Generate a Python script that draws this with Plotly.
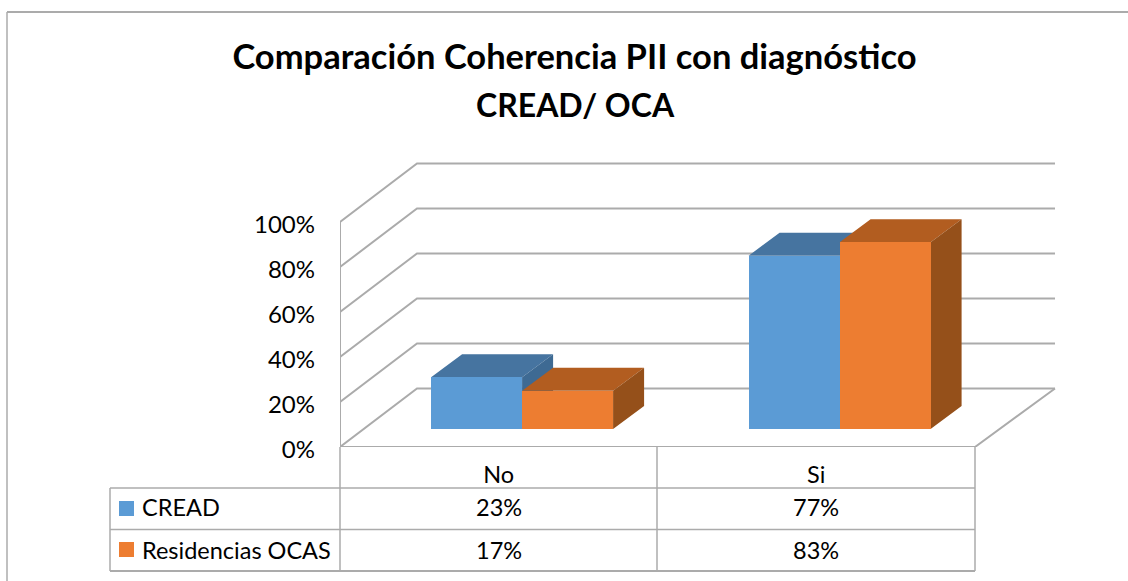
import plotly.graph_objects as go

# ---- data ----
categories = ["No", "Si"]
series_names = ["CREAD", "Residencias OCAS"]
cread = [23, 77]
ocas = [17, 83]
tick_vals = [0, 20, 40, 60, 80, 100]
tick_text = ["0%", "20%", "40%", "60%", "80%", "100%"]
title_line_1 = "<b>Comparación Coherencia PII con diagnóstico</b>"
title_line_2 = "<b>CREAD/ OCA</b>"

# ---- styling ----
W, H = 1128, 581
L, R, T, B = 340, 1056, 158, 447      # plot box in window pixels
FONT = "Lato"
GRID = "#ababab"
TXT = "#000000"
front = ["#5B9BD5", "#ED7D31"]
top_c = ["#4674A0", "#B25D20"]
side_c = ["#3E6A93", "#95501A"]

unit_x = 317.5      # px per category
unit_y = 2.25       # px per percent
x_max = (R - L) / unit_x
y_max = (B - T) / unit_y
wall_dx, wall_dy = 77 / unit_x, 58.5 / unit_y
depth_dx, depth_dy = 31 / unit_x, 23 / unit_y
bar_w = 91 / unit_x
bar_shift = 0.0735
floor_gap = 18 / unit_y
x_end = (1055 - L) / unit_x


def px(x):
    return (x - L) / (R - L)


def py(y):
    return (B - y) / (B - T)


fig = go.Figure()

# walls and floor
gx, gy = [], []
for v in tick_vals:
    gx += [0, wall_dx, x_end, None]
    gy += [v, v + wall_dy, v + wall_dy, None]
gx += [0, 0, None, 0, 2, x_end]
gy += [0, 100, None, 0, 0, wall_dy]
fig.add_trace(go.Scatter(x=gx, y=gy, mode="lines", showlegend=False, hoverinfo="skip",
                         cliponaxis=False, line=dict(color=GRID, width=2)))

all_series = [cread, ocas]
for s, vals in enumerate(all_series):
    sign = -1 if s == 0 else 0
    tx, ty, sx, sy = [], [], [], []
    for c, v in enumerate(vals):
        x0 = c + 0.5 + bar_shift + sign * bar_w
        x1 = x0 + bar_w
        y0, y1 = floor_gap, floor_gap + v
        tx += [x0, x1, x1 + depth_dx, x0 + depth_dx, x0, None]
        ty += [y1, y1, y1 + depth_dy, y1 + depth_dy, y1, None]
        sx += [x1, x1 + depth_dx, x1 + depth_dx, x1, x1, None]
        sy += [y1, y1 + depth_dy, y0 + depth_dy, y0, y1, None]
    fig.add_trace(go.Scatter(x=tx, y=ty, mode="lines", fill="toself", fillcolor=top_c[s],
                             line=dict(width=0, color=top_c[s]), showlegend=False, hoverinfo="skip"))
    fig.add_trace(go.Scatter(x=sx, y=sy, mode="lines", fill="toself", fillcolor=side_c[s],
                             line=dict(width=0, color=side_c[s]), showlegend=False, hoverinfo="skip"))

# front faces on an overlaying axis pair so they sit above the faces behind
for s, vals in enumerate(all_series):
    sign = -1 if s == 0 else 0
    fig.add_trace(go.Bar(
        x=[c + 0.5 + bar_shift + sign * bar_w + bar_w / 2 for c in range(len(vals))],
        y=vals, base=floor_gap, width=bar_w, name=series_names[s],
        marker=dict(color=front[s], line=dict(width=0)),
        xaxis="x2", yaxis="y2", showlegend=False,
    ))

# table grid and outer frame
shapes = []


def line(x0, y0, x1, y1, color=GRID, width=1.5):
    shapes.append(dict(type="line", xref="paper", yref="paper",
                       x0=px(x0), y0=py(y0), x1=px(x1), y1=py(y1),
                       line=dict(color=color, width=width)))


line(7, 12, W, 12, "#8f8f8f", 1.5)
line(7, 12, 7, H, "#ababab", 1.5)
line(110, 488, 975, 488)
line(110, 529.5, 975, 529.5)
line(110, 571, 975, 571, width=2)
line(110, 488, 110, 571)
line(340, 447, 340, 571)
line(657, 447, 657, 571)
line(975, 447, 975, 571)

annotations = [dict(text=title_line_2, xref="paper", yref="paper", x=px(575), y=py(104),
                    xanchor="center", yanchor="middle", showarrow=False,
                    font=dict(family=FONT, size=32, color=TXT))]
key_mid = [508.5, 549.5]
text_mid = [507, 550]
for s, (name, vals) in enumerate(zip(series_names, all_series)):
    shapes.append(dict(type="rect", xref="paper", yref="paper",
                       x0=px(119), x1=px(134), y0=py(key_mid[s] - 7.5), y1=py(key_mid[s] + 7.5),
                       fillcolor=front[s], line=dict(width=0)))
    annotations.append(dict(text=name, xref="paper", yref="paper", x=px(140), y=py(text_mid[s]),
                            xanchor="left", yanchor="middle", showarrow=False,
                            font=dict(family=FONT, size=23.5, color=TXT)))
    for c, v in enumerate(vals):
        annotations.append(dict(text=f"{v}%", xref="paper", yref="paper",
                                x=px(340 + unit_x * (c + 0.5)), y=py(text_mid[s]),
                                xanchor="center", yanchor="middle", showarrow=False,
                                font=dict(family=FONT, size=23.5, color=TXT)))

fig.update_layout(
    width=W, height=H, autosize=False,
    margin=dict(l=L, r=W - R, t=T, b=H - B, pad=0),
    paper_bgcolor="white", plot_bgcolor="white",
    barmode="overlay", bargap=0,
    font=dict(family=FONT, color=TXT),
    title=dict(text=title_line_1, xref="container", yref="container",
               x=574.5 / W, y=1 - 45 / H, xanchor="center", yanchor="top",
               font=dict(family=FONT, size=34.5, color=TXT)),
    xaxis=dict(range=[0, x_max], tickvals=[c + 0.5 for c in range(len(categories))],
               ticktext=categories, showgrid=False, zeroline=False, showline=False,
               ticks="", ticklabelstandoff=11, tickfont=dict(family=FONT, size=23.5, color=TXT)),
    yaxis=dict(range=[0, y_max], tickvals=tick_vals, ticktext=tick_text,
               showgrid=False, zeroline=False, showline=False, ticks="",
               ticklabelstandoff=24, ticklabelshift=3, tickfont=dict(family=FONT, size=24, color=TXT)),
    xaxis2=dict(range=[0, x_max], overlaying="x", visible=False),
    yaxis2=dict(range=[0, y_max], overlaying="y", visible=False),
    shapes=shapes, annotations=annotations,
)

page_css = ("document.head.insertAdjacentHTML('beforeend',"
            "'<style>body{margin:0;overflow:hidden}text{font-variant-ligatures:none}</style>');")
fig.write_html("out.html", config=dict(displayModeBar=False), post_script=page_css)
